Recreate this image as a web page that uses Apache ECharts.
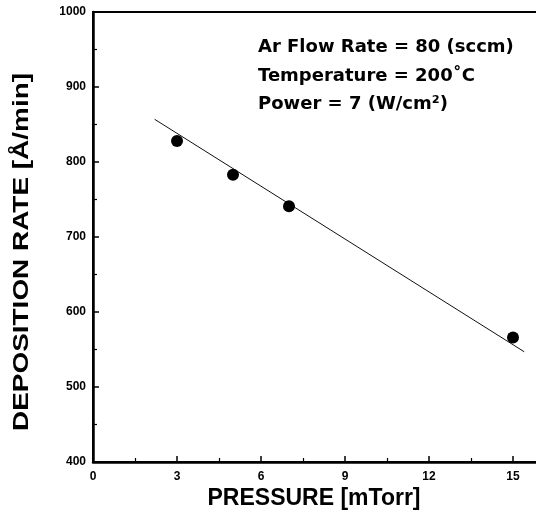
<!DOCTYPE html>
<html>
<head>
<meta charset="utf-8">
<script src="https://cdn.jsdelivr.net/npm/echarts@6/dist/echarts.min.js"></script>
<style>html,body{margin:0;padding:0;background:#fff}#c{width:536px;height:510px}</style>
</head>
<body>
<div id="c"></div>
<script>
const pressure = [3, 5, 7, 15];
const depositionRate = [828, 783, 741, 566];
const fitPressure = [2.2, 15.4];
const fitRate = [857, 547];
const annotations = ['Ar Flow Rate = 80 (sccm)', 'Temperature = 200\u02DAC', 'Power = 7 (W/cm\u00B2)'];
const xTitle = 'PRESSURE [mTorr]';
const yTitle = 'DEPOSITION RATE [\u00C5/min]';

const chart = echarts.init(document.getElementById('c'), null, {renderer: 'canvas'});
const font = '"Liberation Sans", Arial, sans-serif';
const wide = '"DejaVu Sans", sans-serif';
chart.setOption({
  animation: false,
  backgroundColor: '#fff',
  grid: {left: 93, top: 12, width: 448, height: 450, outerBoundsMode: 'none', containLabel: false,
    show: true, borderColor: '#000', borderWidth: 2, backgroundColor: 'transparent'},
  xAxis: {
    type: 'value', min: 0, max: 16, interval: 3,
    axisLine: {show: true, onZero: false, lineStyle: {color: '#000', width: 2.5}},
    axisTick: {show: true, inside: true, length: 6, lineStyle: {color: '#000', width: 1.5}},
    minorTick: {show: true, splitNumber: 2, length: 4, lineStyle: {color: '#000', width: 1.2}},
    splitLine: {show: false},
    axisLabel: {color: '#000', fontSize: 12, fontWeight: 'bold', fontFamily: font, margin: 9,
      formatter: v => (v > 15 ? '' : String(v))}
  },
  yAxis: {
    type: 'value', min: 400, max: 1000, interval: 100,
    axisLine: {show: true, onZero: false, lineStyle: {color: '#000', width: 2.5}},
    axisTick: {show: true, inside: true, length: 6, lineStyle: {color: '#000', width: 1.5}},
    minorTick: {show: true, splitNumber: 2, length: 4, lineStyle: {color: '#000', width: 1.2}},
    splitLine: {show: false},
    axisLabel: {color: '#000', fontSize: 12, fontWeight: 'bold', fontFamily: font, margin: 7,
      formatter: v => String(v)}
  },
  series: [
    {type: 'line', data: fitPressure.map((x, i) => [x, fitRate[i]]), showSymbol: false,
      lineStyle: {color: '#111', width: 1}, z: 2},
    {type: 'scatter', data: pressure.map((x, i) => [x, depositionRate[i]]), symbol: 'circle', symbolSize: 12,
      itemStyle: {color: '#000', opacity: 1}, z: 3}
  ],
  graphic: [
    {type: 'text', left: 258, top: 38, style: {text: annotations[0], font: 'bold 18px ' + wide, fill: '#000'}},
    {type: 'text', left: 258, top: 67, style: {text: annotations[1], font: 'bold 18px ' + wide, fill: '#000'}},
    {type: 'text', left: 258, top: 95, style: {text: annotations[2], font: 'bold 18px ' + wide, fill: '#000'}},
    {type: 'text', x: 314, y: 499, style: {text: xTitle, font: 'bold 23px ' + font, fill: '#000', align: 'center', verticalAlign: 'middle'}},
    {type: 'text', x: 22, y: 252, rotation: Math.PI / 2, scaleX: 1.27, style: {text: yTitle, font: 'bold 22px ' + font, fill: '#000', align: 'center', verticalAlign: 'middle'}}
  ]
});
</script>
</body>
</html>
